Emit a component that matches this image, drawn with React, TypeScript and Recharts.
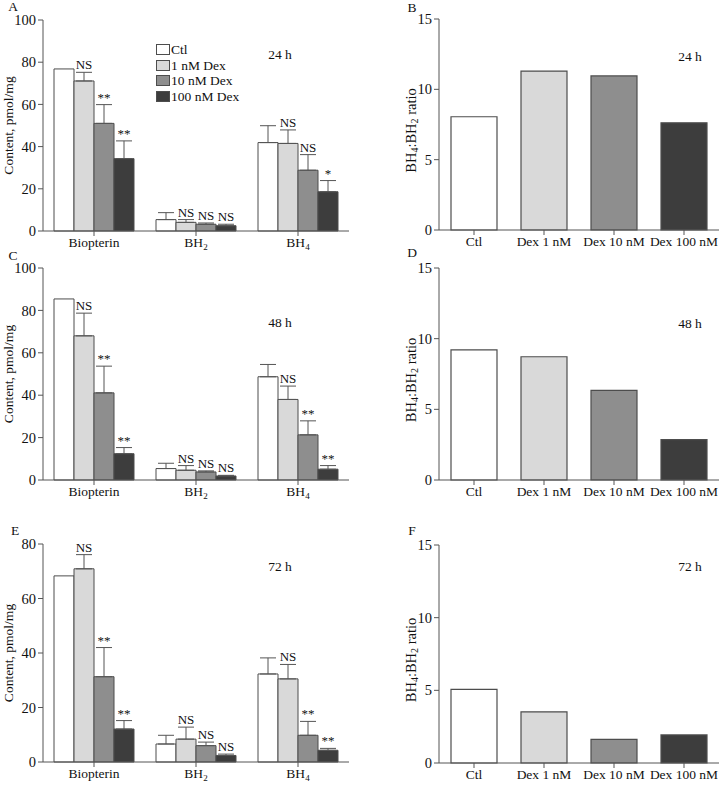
import React from 'react';
import { BarChart, Bar, XAxis, YAxis, ErrorBar, LabelList, Cell, Legend } from 'recharts';

const FONT = '"Liberation Serif", "DejaVu Serif", serif';
const AXIS = '#555';
const EDGE = '#4d4d4d';

const categories = ['Biopterin', 'BH2', 'BH4'];
const groupNames = ['Ctl', '1 nM Dex', '10 nM Dex', '100 nM Dex'];
const ratioCategories = ['Ctl', 'Dex 1 nM', 'Dex 10 nM', 'Dex 100 nM'];
const fills = ['#ffffff', '#d9d9d9', '#8e8e8e', '#3d3d3d'];

// 24 h content (pmol/mg), upper error, significance
const ctl24 = [76.8, 5.4, 41.9];
const dex1_24 = [71.1, 4.1, 41.5];
const dex10_24 = [51.0, 3.2, 28.8];
const dex100_24 = [34.3, 2.5, 18.6];
const ctl24Err = [null, 3.3, 8.0];
const dex1_24Err = [4.1, 1.3, 6.4];
const dex10_24Err = [8.9, 0.6, 7.4];
const dex100_24Err = [8.4, 0.7, 5.3];
const sig1_24 = ['NS', 'NS', 'NS'];
const sig10_24 = ['**', 'NS', 'NS'];
const sig100_24 = ['**', 'NS', '*'];

// 48 h
const ctl48 = [85.4, 5.4, 48.7];
const dex1_48 = [68.0, 4.6, 38.0];
const dex10_48 = [41.1, 3.8, 21.3];
const dex100_48 = [12.4, 1.9, 5.1];
const ctl48Err = [null, 2.5, 5.8];
const dex1_48Err = [10.7, 2.2, 6.3];
const dex10_48Err = [12.6, 0.5, 6.6];
const dex100_48Err = [2.9, 0.3, 1.7];
const sig1_48 = ['NS', 'NS', 'NS'];
const sig10_48 = ['**', 'NS', '**'];
const sig100_48 = ['**', 'NS', '**'];

// 72 h
const ctl72 = [68.3, 6.6, 32.3];
const dex1_72 = [70.9, 8.4, 30.5];
const dex10_72 = [31.3, 6.0, 9.8];
const dex100_72 = [12.1, 2.4, 4.3];
const ctl72Err = [null, 3.2, 5.9];
const dex1_72Err = [5.2, 4.4, 5.3];
const dex10_72Err = [10.7, 1.3, 5.1];
const dex100_72Err = [3.1, 0.5, 0.7];
const sig1_72 = ['NS', 'NS', 'NS'];
const sig10_72 = ['**', 'NS', '**'];
const sig100_72 = ['**', 'NS', '**'];

// BH4:BH2 ratio
const ratio24 = [8.05, 11.3, 10.95, 7.62];
const ratio48 = [9.2, 8.72, 6.34, 2.86];
const ratio72 = [5.06, 3.52, 1.63, 1.93];

const keys = ['ctl', 'dex1', 'dex10', 'dex100'];

function buildRows(vals: number[][], errs: (number | null)[][], sigs: string[][]) {
  return categories.map((name, i) => {
    const row: any = { name };
    keys.forEach((k, j) => {
      row[k] = vals[j][i];
      const e = errs[j][i];
      row[k + 'Err'] = e == null ? null : [0, e];
      row[k + 'Top'] = e == null ? 0 : e;
      if (j > 0) row[k + 'Sig'] = sigs[j - 1][i];
    });
    return row;
  });
}

const rows24 = buildRows([ctl24, dex1_24, dex10_24, dex100_24], [ctl24Err, dex1_24Err, dex10_24Err, dex100_24Err], [sig1_24, sig10_24, sig100_24]);
const rows48 = buildRows([ctl48, dex1_48, dex10_48, dex100_48], [ctl48Err, dex1_48Err, dex10_48Err, dex100_48Err], [sig1_48, sig10_48, sig100_48]);
const rows72 = buildRows([ctl72, dex1_72, dex10_72, dex100_72], [ctl72Err, dex1_72Err, dex10_72Err, dex100_72Err], [sig1_72, sig10_72, sig100_72]);

const ratioRows = (vals: number[]) => ratioCategories.map((name, i) => ({ name, value: vals[i] }));

const sigContent = (rows: any[], key: string) => (props: any) => {
  const vb = props.viewBox ?? props;
  const { x, y, width, height } = vb;
  const row = rows[props.index];
  if (!row || props.value == null) return null;
  const top = Math.min(y, y + height);
  const pxPerUnit = Math.abs(height) / row[key];
  const ty = top - row[key + 'Top'] * pxPerUnit - 3;
  return (
    <text x={x + width / 2} y={ty} textAnchor="middle" fontSize={13} fontFamily={FONT} fill="#111">
      {props.value}
    </text>
  );
};

const SubTick = (props: any) => {
  const { x, y, payload } = props;
  const v: string = String(payload.value);
  const m = v.match(/^BH(\d)$/);
  return (
    <text x={x} y={y} dy={10} textAnchor="middle" fontSize={13.5} fontFamily={FONT} fill="#111">
      {m ? (
        <>
          <tspan>BH</tspan>
          <tspan fontSize={9} dy={3}>{m[1]}</tspan>
        </>
      ) : (
        v
      )}
    </text>
  );
};

const ContentLabel = (props: any) => {
  const vb = props.viewBox;
  const cx = vb.x + 8;
  const cy = vb.y + vb.height / 2;
  return (
    <text x={cx} y={cy} transform={`rotate(-90, ${cx}, ${cy})`} textAnchor="middle" dominantBaseline="central" fontSize={13.5} fontFamily={FONT} fill="#111">
      Content, pmol/mg
    </text>
  );
};

const RatioLabel = (props: any) => {
  const vb = props.viewBox;
  const cx = vb.x + 31;
  const cy = vb.y + vb.height / 2 + 6;
  return (
    <text x={cx} y={cy} transform={`rotate(-90, ${cx}, ${cy})`} textAnchor="middle" dominantBaseline="central" fontSize={14.5} fontFamily={FONT} fill="#111">
      <tspan>BH</tspan>
      <tspan fontSize={10} dy={3}>4</tspan>
      <tspan dy={-3}>:BH</tspan>
      <tspan fontSize={10} dy={3}>2</tspan>
      <tspan dy={-3}> ratio</tspan>
    </text>
  );
};

const LegendBox = () => (
  <div style={{ fontFamily: FONT, fontSize: 13.5, color: '#111', lineHeight: '15.5px' }}>
    {groupNames.map((g, i) => (
      <div key={g} style={{ display: 'flex', alignItems: 'center' }}>
        <span style={{ display: 'inline-block', width: 12, height: 9, background: fills[i], border: `1px solid ${EDGE}`, marginRight: 1 }} />
        <span>{g}</span>
      </div>
    ))}
  </div>
);

const tickStyle = { fontSize: 14.5, fontFamily: FONT, fill: '#111' };

function ContentChart({ rows, top, height, mTop, xH, max, ticks, legend }: any) {
  return (
    <div style={{ position: 'absolute', left: 0, top, width: 360, height }}>
      <BarChart width={360} height={height} data={rows} margin={{ top: mTop, right: 11, bottom: 0, left: 0 }} barGap={0} barSize={20}>
        <XAxis dataKey="name" height={xH} stroke={AXIS} tickSize={5} tickMargin={1} tick={<SubTick />} interval={0} />
        <YAxis width={43} domain={[0, max]} ticks={ticks} stroke={AXIS} tickSize={5} tickMargin={2} tick={tickStyle} label={<ContentLabel />} />
        {legend && (
          <Legend layout="vertical" align="center" verticalAlign="middle" wrapperStyle={{ left: 156, top: 42, width: 'auto', height: 'auto' }} content={<LegendBox />} />
        )}
        {keys.map((k, j) => (
          <Bar key={k} dataKey={k} name={groupNames[j]} fill={fills[j]} stroke={EDGE} strokeWidth={1} isAnimationActive={false}>
            <ErrorBar dataKey={k + 'Err'} width={8} stroke={AXIS} strokeWidth={1} />
            {j > 0 && <LabelList dataKey={k + 'Sig'} content={sigContent(rows, k)} />}
          </Bar>
        ))}
      </BarChart>
    </div>
  );
}

function RatioChart({ vals, top, height, mTop, xH }: any) {
  return (
    <div style={{ position: 'absolute', left: 380, top, width: 342, height }}>
      <BarChart width={342} height={height} data={ratioRows(vals)} margin={{ top: mTop, right: 3, bottom: 0, left: 0 }} barSize={46}>
        <XAxis dataKey="name" height={xH} stroke={AXIS} tickSize={5} tickMargin={1} tick={<SubTick />} interval={0} />
        <YAxis width={59} domain={[0, 15]} ticks={[0, 5, 10, 15]} stroke={AXIS} tickSize={5} tickMargin={2} tick={tickStyle} label={<RatioLabel />} />
        <Bar dataKey="value" stroke={EDGE} strokeWidth={1.2} isAnimationActive={false}>
          {vals.map((_: number, i: number) => (
            <Cell key={i} fill={fills[i]} />
          ))}
        </Bar>
      </BarChart>
    </div>
  );
}

const Txt = ({ x, y, children }: any) => (
  <div style={{ position: 'absolute', left: x, top: y, transform: 'translate(-50%, -50%)', fontFamily: FONT, fontSize: 13.5, color: '#111', lineHeight: 1, whiteSpace: 'nowrap' }}>
    {children}
  </div>
);

export default function App() {
  return (
    <div style={{ position: 'absolute', left: 0, top: 0, width: 722, height: 785, background: '#fff', overflow: 'hidden' }}>
      <ContentChart rows={rows24} top={0} height={252} mTop={20} xH={21} max={100} ticks={[0, 20, 40, 60, 80, 100]} legend />
      <ContentChart rows={rows48} top={250} height={252} mTop={18} xH={22} max={100} ticks={[0, 20, 40, 60, 80, 100]} />
      <ContentChart rows={rows72} top={505} height={280} mTop={39} xH={23} max={80} ticks={[0, 20, 40, 60, 80]} />
      <RatioChart vals={ratio24} top={0} height={252} mTop={19} xH={22} />
      <RatioChart vals={ratio48} top={250} height={252} mTop={18} xH={22} />
      <RatioChart vals={ratio72} top={505} height={280} mTop={40} xH={22} />
      <Txt x={13} y={7}>A</Txt>
      <Txt x={412} y={8}>B</Txt>
      <Txt x={13} y={256}>C</Txt>
      <Txt x={412} y={253}>D</Txt>
      <Txt x={15} y={531}>E</Txt>
      <Txt x={412} y={531}>F</Txt>
      <Txt x={280} y={55}>24 h</Txt>
      <Txt x={690} y={57}>24 h</Txt>
      <Txt x={280} y={323}>48 h</Txt>
      <Txt x={690} y={324}>48 h</Txt>
      <Txt x={280} y={567}>72 h</Txt>
      <Txt x={690} y={567}>72 h</Txt>
    </div>
  );
}
